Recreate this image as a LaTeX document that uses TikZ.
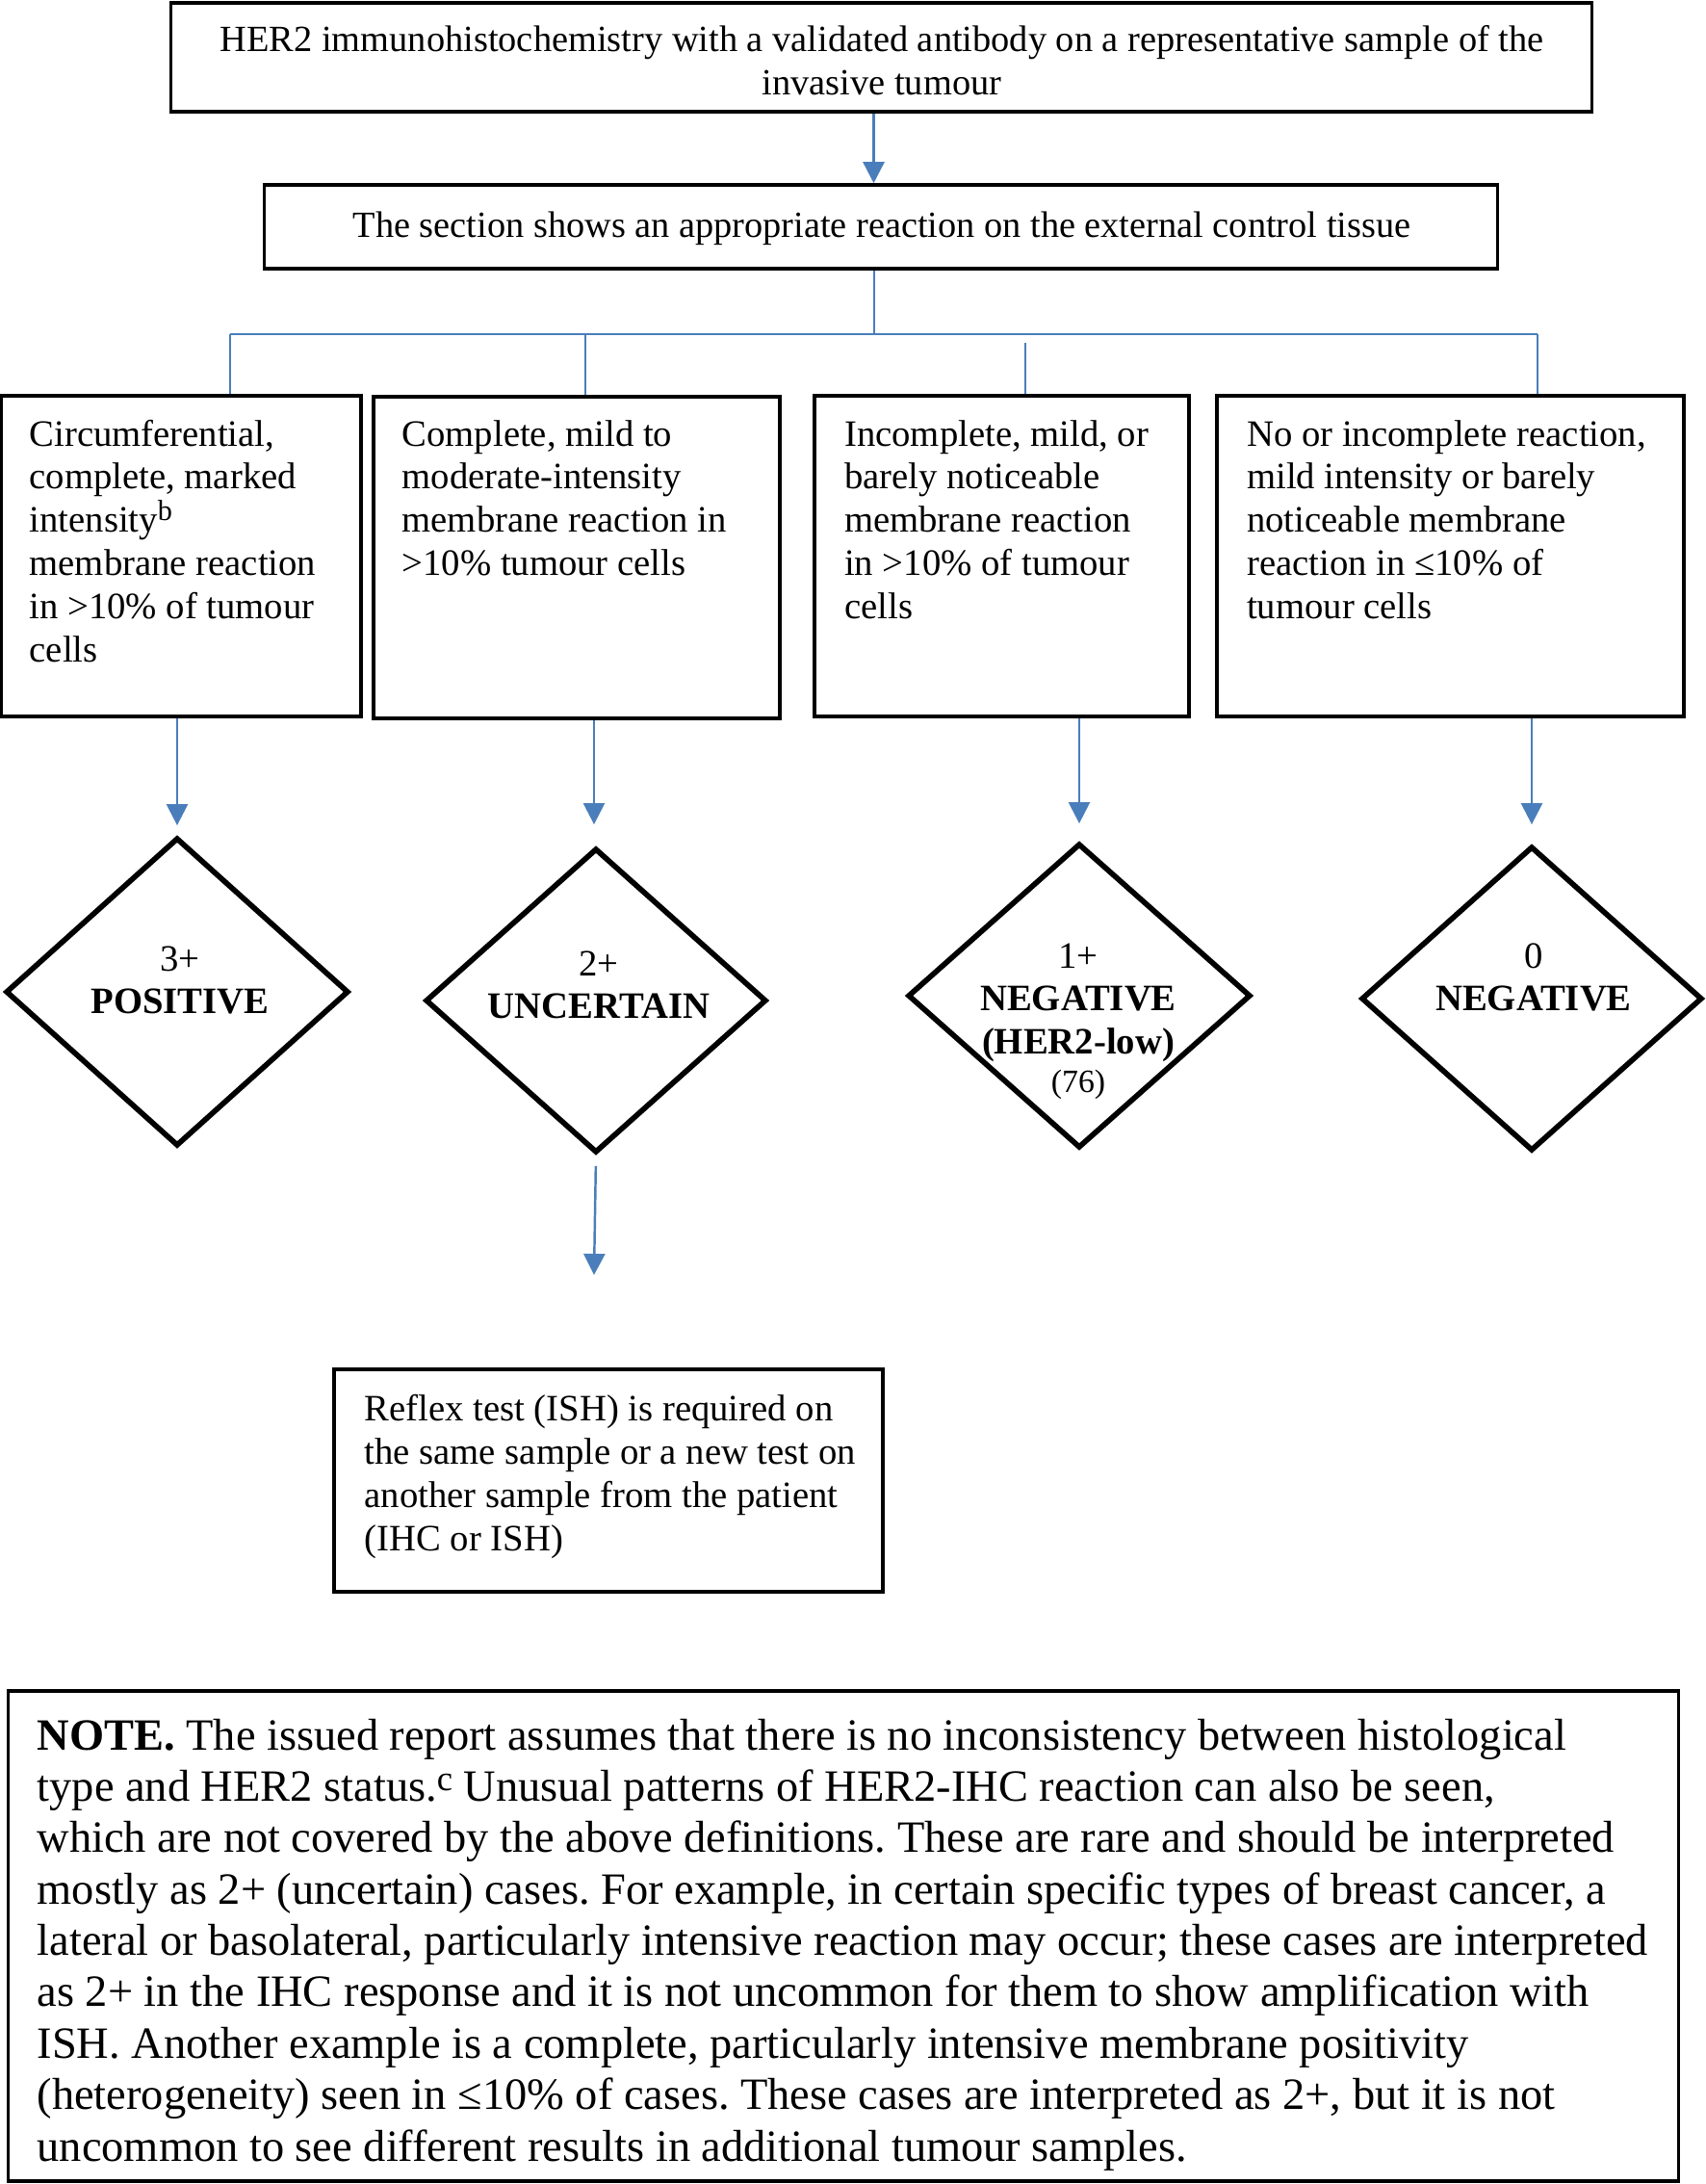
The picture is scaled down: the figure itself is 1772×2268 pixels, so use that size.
\documentclass[tikz,border=0pt]{standalone}
\usepackage{fontspec}
\setmainfont{Liberation Serif}
\usetikzlibrary{arrows.meta,shapes.geometric}
\definecolor{conn}{RGB}{74,126,187}
\newcommand{\supl}[1]{\raisebox{0.32em}{\fontsize{8.6}{10}\selectfont #1}}
\newcommand{\tight}{\frenchspacing\spaceskip=0.25em\xspaceskip=0.25em\relax}
\begin{document}
\begin{tikzpicture}[x=0.01cm,y=-0.01cm,
  box/.style={draw=black,line width=1pt,rectangle,inner sep=0pt},
  dia/.style={draw=black,line width=1.6pt,diamond,inner sep=0pt},
  txt/.style={inner sep=0pt,font=\fontsize{11}{12.76}\selectfont,execute at begin node=\tight},
  ltxt/.style={txt,anchor=base west,align=left,text width=4.6cm},
  ctxt/.style={txt,anchor=base,align=center,text width=5cm},
  ln/.style={draw=conn,line width=0.7pt},
  arr/.style={ln,-{Triangle[length=0.22cm,width=0.22cm]}}]
\useasboundingbox (0,0) rectangle (1772,2268);
% boxes
\node[box,minimum width=14.75cm,minimum height=1.13cm] (T) at (915.5,59.5) {};
\node[box,minimum width=12.80cm,minimum height=0.87cm] (S) at (915,235.5) {};
\node[box,minimum width=3.74cm,minimum height=3.33cm] (A) at (188,577.5) {};
\node[box,minimum width=4.22cm,minimum height=3.34cm] (B) at (599,579) {};
\node[box,minimum width=3.89cm,minimum height=3.33cm] (C) at (1040.5,577.5) {};
\node[box,minimum width=4.85cm,minimum height=3.33cm] (D) at (1506.5,577.5) {};
\node[box,minimum width=5.70cm,minimum height=2.31cm] (E) at (632,1537.5) {};
\node[box,minimum width=17.34cm,minimum height=5.09cm] (N) at (876,2010.5) {};
% diamonds
\node[dia,minimum width=3.56cm,minimum height=3.20cm] (dA) at (184,1030) {};
\node[dia,minimum width=3.54cm,minimum height=3.16cm] (dB) at (619,1039) {};
\node[dia,minimum width=3.56cm,minimum height=3.16cm] (dC) at (1121,1034) {};
\node[dia,minimum width=3.54cm,minimum height=3.16cm] (dD) at (1591,1037) {};
% texts
\node[ctxt,text width=15cm,font=\fontsize{10.92}{12.76}\selectfont] (tT) at (916,53.5) {HER2 immunohistochemistry with a validated antibody on a representative sample of the\\invasive tumour};
\node[ctxt,text width=13cm,font=\fontsize{10.9}{12.76}\selectfont] (tS) at (916,246) {The section shows an appropriate reaction on the external control tissue};
\node[ltxt] (tA) at (30,463) {Circumferential,\\complete, marked\\intensity\supl{b}\\membrane reaction\\in >10\% of tumour\\cells};
\node[ltxt] (tB) at (417,463) {Complete, mild to\\moderate-intensity\\membrane reaction in\\>10\% tumour cells};
\node[ltxt] (tC) at (876.5,463) {Incomplete, mild, or\\barely noticeable\\membrane reaction\\in >10\% of tumour\\cells};
\node[ltxt] (tD) at (1294.5,463) {No or incomplete reaction,\\mild intensity or barely\\noticeable membrane\\reaction in ≤10\% of\\tumour cells};
\node[ltxt,text width=5.5cm] (tE) at (378,1475.5) {Reflex test (ISH) is required on\\the same sample or a new test on\\another sample from the patient\\(IHC or ISH)};
\node[ctxt] (tdA) at (187,1008) {3+\\\textbf{POSITIVE}};
\node[ctxt] (tdB) at (622,1013) {2+\\\textbf{UNCERTAIN}};
\node[ctxt] (tdC) at (1120,1005) {1+\\\textbf{NEGATIVE}\\\textbf{(HER2-low)}\\[-1.4pt]{\fontsize{9.6}{12.76}\selectfont(76)}};
\node[ctxt] (tdD) at (1593,1005) {0\\\textbf{NEGATIVE}};
\node[txt,anchor=base west,align=left,text width=17.2cm,font=\fontsize{13.2}{15.18}\selectfont] (tN) at (38,1817) {\textbf{NOTE.} The issued report assumes that there is no inconsistency between histological\\type and HER2 status.{\fontsize{10.4}{12}\selectfont\raisebox{0.3em}{c}} Unusual patterns of HER2-IHC reaction can also be seen,\\which are not covered by the above definitions. These are rare and should be interpreted\\mostly as 2+ (uncertain) cases. For example, in certain specific types of breast cancer, a\\lateral or basolateral, particularly intensive reaction may occur; these cases are interpreted\\as 2+ in the IHC response and it is not uncommon for them to show amplification with\\ISH. Another example is a complete, particularly intensive membrane positivity\\(heterogeneity) seen in ≤10\% of cases. These cases are interpreted as 2+, but it is not\\uncommon to see different results in additional tumour samples.};
% connectors
\draw[arr] ([xshift=-0.08cm]T.south) -- ([xshift=-0.08cm]T.south |- S.north);
\coordinate (j) at (908,347);
\coordinate (hA) at (239,347);
\coordinate (hB) at (608,347);
\coordinate (hC) at (1065,356);
\coordinate (hD) at (1597,347);
\draw[ln] (S.south -| j) -- (j);
\draw[ln] (hA) -- (hD);
\draw[ln] (hA) -- (hA |- A.north);
\draw[ln] (hB) -- (hB |- B.north);
\draw[ln] (hC) -- (hC |- C.north);
\draw[ln] (hD) -- (hD |- D.north);
\draw[arr,shorten >=0.10cm] (dA.north |- A.south) -- (dA.north);
\draw[arr,shorten >=0.22cm] ([xshift=-0.02cm]dB.north |- B.south) -- ([xshift=-0.02cm]dB.north);
\draw[arr,shorten >=0.18cm] (dC.north |- C.south) -- (dC.north);
\draw[arr,shorten >=0.20cm] (dD.north |- D.south) -- (dD.north);
\coordinate (eT) at (617,1324);
\draw[arr,shorten <=0.11cm] (dB.south) -- (eT);
\end{tikzpicture}
\end{document}
